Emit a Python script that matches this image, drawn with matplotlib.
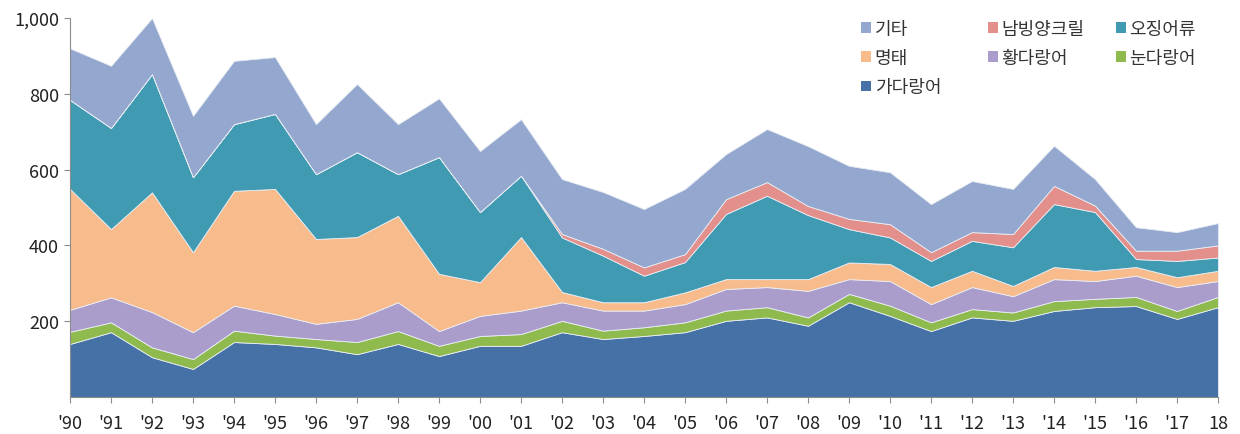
import numpy as np
import matplotlib.pyplot as plt
from matplotlib.ticker import FuncFormatter
from matplotlib.patches import Patch

plt.rcParams['font.family'] = ['Noto Sans CJK KR', 'DejaVu Sans']

# years 1990 - 2018
years = list(range(1990, 2019))
year_labels = ["'%02d" % (y % 100) for y in years[:-1]] + ['18']

# catch by species (stacked, bottom to top)
skipjack = [140, 171, 105, 74, 145, 140, 131, 113, 140, 108, 135, 135, 171, 153, 161,
            171, 201, 210, 188, 250, 214, 174, 210, 201, 227, 237, 240, 206, 237]
bigeye = [32, 26, 26, 26, 30, 22, 22, 32, 34, 27, 26, 31, 30, 22, 23,
          26, 27, 27, 22, 22, 27, 23, 22, 22, 26, 22, 24, 21, 27]
yellowfin = [58, 66, 93, 71, 66, 57, 40, 61, 76, 39, 53, 62, 49, 53, 44,
             48, 57, 53, 70, 39, 65, 48, 58, 43, 58, 47, 56, 63, 42]
pollock = [319, 180, 316, 211, 303, 330, 224, 216, 228, 151, 89, 194, 27, 22, 22,
           31, 26, 21, 31, 44, 45, 45, 43, 27, 32, 27, 23, 26, 27]
squid = [235, 267, 312, 198, 176, 198, 171, 224, 110, 308, 185, 162, 144, 123, 70,
         80, 172, 220, 169, 88, 70, 69, 79, 102, 166, 155, 21, 43, 35]
krill = [0, 0, 0, 0, 0, 0, 0, 0, 0, 0, 0, 0, 9, 18, 22,
         21, 39, 36, 24, 27, 35, 23, 23, 35, 48, 17, 22, 27, 32]
others = [136, 164, 148, 162, 167, 150, 132, 180, 132, 155, 161, 149, 145, 150, 154,
          172, 119, 140, 158, 140, 137, 127, 135, 119, 106, 70, 62, 49, 59]

names = ['가다랑어', '눈다랑어', '황다랑어', '명태', '오징어류', '남빙양크릴', '기타']
colors = ['#4571a6', '#8fba4e', '#ab9dcb', '#f8bc8c', '#3f9ab2', '#e38f8b', '#94a7cf']

fig = plt.figure(figsize=(12.4, 4.35), dpi=100)
ax = fig.add_axes([70/1240, 1-398/435, (1218-70)/1240, (398-19)/435])

x = np.arange(len(years))
ax.stackplot(x, skipjack, bigeye, yellowfin, pollock, squid, krill, others,
             colors=colors, edgecolor='#e9eef4', linewidth=0.6)

ax.set_xlim(0, len(years) - 1)
ax.set_ylim(0, 1000)
ax.set_xticks(x)
ax.set_xticklabels(year_labels)
ax.set_yticks([200, 400, 600, 800, 1000])
ax.yaxis.set_major_formatter(FuncFormatter(lambda v, p: '{:,.0f}'.format(v)))

for s in ['top', 'right']:
    ax.spines[s].set_visible(False)
for s in ['left', 'bottom']:
    ax.spines[s].set_color('#8c8c8c')
ax.tick_params(axis='both', colors='#8c8c8c', labelcolor='#222222', labelsize=13,
               length=4, direction='out')
ax.tick_params(axis='x', pad=8)
ax.tick_params(axis='y', pad=4)

# legend in three columns like the original
cols = [['기타', '명태', '가다랑어'], ['남빙양크릴', '황다랑어'], ['오징어류', '눈다랑어']]
col_x = [861/1240, 988/1240, 1116/1240]
for names_col, cx in zip(cols, col_x):
    handles = [Patch(facecolor=colors[names.index(n)], edgecolor='none', label=n) for n in names_col]
    leg = fig.legend(handles=handles, loc='upper left', bbox_to_anchor=(cx, 1 - 21/435),
                     frameon=False, fontsize=13, handlelength=0.55, handleheight=0.55,
                     handletextpad=0.2, labelspacing=0.62, borderaxespad=0, borderpad=0)
    for t in leg.get_texts():
        t.set_color('#333333')

plt.savefig('out.png', dpi=100)
